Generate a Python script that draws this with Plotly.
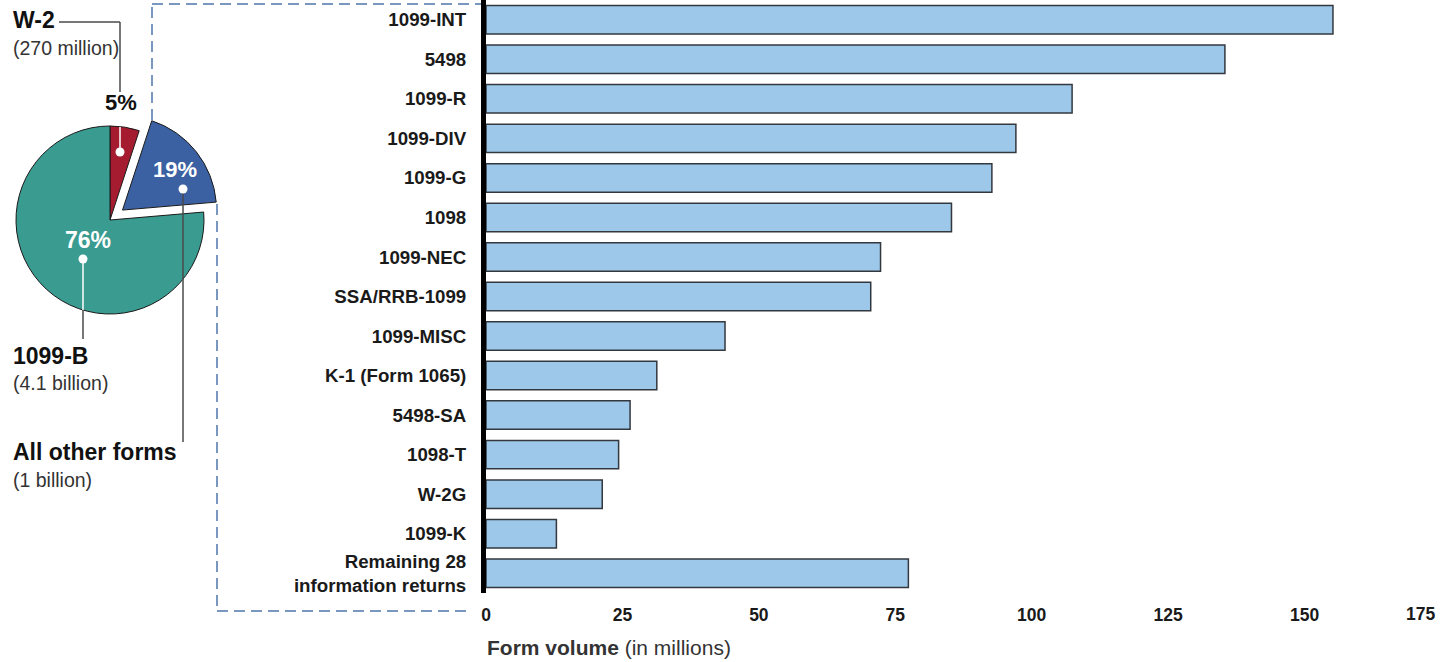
import plotly.graph_objects as go

W, H = 1452, 662

# Information return volumes by form (millions)
forms = [
    "1099-INT", "5498", "1099-R", "1099-DIV", "1099-G", "1098", "1099-NEC",
    "SSA/RRB-1099", "1099-MISC", "K-1 (Form 1065)", "5498-SA", "1098-T",
    "W-2G", "1099-K", "Remaining 28<br>information returns",
]
volume_millions = [155.2, 135.4, 107.4, 97.1, 92.7, 85.3, 72.3, 70.5,
                   43.8, 31.3, 26.4, 24.3, 21.3, 12.9, 77.4]

# Share of all information returns (millions)
pie_labels = ["W-2", "All other forms", "1099-B"]
pie_values = [270, 1000, 4100]
pie_amounts = ["(270 million)", "(1 billion)", "(4.1 billion)"]

x_ticks = [0, 25, 50, 75, 100, 125, 150, 175]

FONT = "Arial, Liberation Sans, sans-serif"
RED, BLUE, TEAL = "#A51C30", "#3B61A2", "#3A9B90"
BAR_FILL, BAR_EDGE = "#9DC8EA", "#33383F"
DASH_COLOR = "#4F76AC"
LEADER = "#4A4A4A"


def px(x):
    return x / W


def py(y):
    return 1 - y / H


fig = go.Figure()

# Pie of all forms, "All other forms" pulled out
pie_cx, pie_cy, pie_half = 110, 220, 110
fig.add_trace(go.Pie(
    labels=pie_labels,
    values=pie_values,
    sort=False,
    direction="clockwise",
    rotation=0,
    pull=[0, 0.17, 0],
    marker=dict(colors=[RED, BLUE, TEAL], line=dict(color="#1a1a1a", width=1)),
    textinfo="none",
    hoverinfo="label+value+percent",
    showlegend=False,
    domain=dict(x=[px(pie_cx - pie_half), px(pie_cx + pie_half)],
                y=[py(pie_cy + pie_half), py(pie_cy - pie_half)]),
))

# Breakdown of the "All other forms" slice
fig.add_trace(go.Bar(
    x=volume_millions,
    y=forms,
    orientation="h",
    width=0.72,
    marker=dict(color=BAR_FILL, line=dict(color=BAR_EDGE, width=1.5)),
    showlegend=False,
    hovertemplate="%{y}: %{x} million<extra></extra>",
))

plot_bottom = 593
tick_font = dict(family=FONT, size=17.5, color="#1a1a1a", weight="bold")

fig.update_layout(
    width=W, height=H,
    margin=dict(l=0, r=0, t=0, b=0),
    paper_bgcolor="white", plot_bgcolor="white",
    font=dict(family=FONT, color="#1a1a1a"),
    bargap=0.28,
    xaxis=dict(
        domain=[px(486), px(1441)],
        range=[0, 175],
        tickvals=x_ticks[:-1],
        ticks="", showgrid=False, zeroline=False, showline=False,
        tickfont=tick_font, ticklabelstandoff=9,
        automargin=False, fixedrange=True,
    ),
    yaxis=dict(
        domain=[py(plot_bottom), 1],
        type="category",
        range=[len(forms) - 0.5, -0.5],
        showline=True, linewidth=5, linecolor="black",
        ticks="", showgrid=False, zeroline=False,
        tickfont=dict(family=FONT, size=18.7, color="#1a1a1a", weight="bold"),
        ticklabelstandoff=11,
        automargin=False, fixedrange=True,
    ),
)

total = sum(pie_values)
pct = [f"{v / total:.0%}" for v in pie_values]

annotations = [
    # last x tick, kept inside the canvas
    dict(x=x_ticks[-1], xref="x", y=py(614), yref="paper", xshift=-21,
         text="175", showarrow=False, font=tick_font,
         xanchor="center", yanchor="middle"),
    # axis title
    dict(x=px(485), y=py(647), xref="paper", yref="paper",
         text="<b>Form volume</b> (in millions)", showarrow=False,
         font=dict(family=FONT, size=21, color="#333333"),
         xanchor="left", yanchor="middle"),
    # pie labels
    dict(x=px(11), y=py(20), text=f"<b>{pie_labels[0]}</b>",
         font=dict(size=23, color="#111111")),
    dict(x=px(11), y=py(48), text=pie_amounts[0],
         font=dict(size=19.5, color="#333333")),
    dict(x=px(11), y=py(356), text=f"<b>{pie_labels[2]}</b>",
         font=dict(size=23, color="#111111")),
    dict(x=px(11), y=py(383), text=pie_amounts[2],
         font=dict(size=19.5, color="#333333")),
    dict(x=px(11), y=py(452), text=f"<b>{pie_labels[1]}</b>",
         font=dict(size=23, color="#111111")),
    dict(x=px(11), y=py(480), text=pie_amounts[1],
         font=dict(size=19.5, color="#333333")),
    # percentages
    dict(x=px(121), y=py(103), text=f"<b>{pct[0]}</b>", xanchor="center",
         font=dict(size=22, color="#111111")),
    dict(x=px(175), y=py(170), text=f"<b>{pct[1]}</b>", xanchor="center",
         font=dict(size=22, color="white")),
    dict(x=px(88), y=py(240), text=f"<b>{pct[2]}</b>", xanchor="center",
         font=dict(size=23, color="white")),
]
for a in annotations[2:]:
    a.setdefault("xref", "paper")
    a.setdefault("yref", "paper")
    a.setdefault("showarrow", False)
    a.setdefault("xanchor", "left")
    a.setdefault("yanchor", "middle")
    a["font"].setdefault("family", FONT)
fig.update_layout(annotations=annotations)


def seg(x0, y0, x1, y1, color, width=1.5, dash=None):
    line = dict(color=color, width=width)
    if dash:
        line["dash"] = dash
    return dict(type="line", xref="paper", yref="paper",
                x0=px(x0), y0=py(y0), x1=px(x1), y1=py(y1), line=line)


def dot(cx, cy, r=4.5):
    return dict(type="circle", xref="paper", yref="paper",
                x0=px(cx - r), x1=px(cx + r), y0=py(cy + r), y1=py(cy - r),
                fillcolor="white", line=dict(color="white", width=0))


shapes = [
    # dashed bracket linking the pulled slice to the bar chart
    seg(152, 120, 152, 4, DASH_COLOR, dash="11px,6px"),
    seg(152, 4, 481, 4, DASH_COLOR, dash="11px,6px"),
    seg(217, 204, 217, 611, DASH_COLOR, dash="11px,6px"),
    seg(217, 611, 470, 611, DASH_COLOR, dash="11px,6px"),
    # W-2 leader
    seg(120, 152, 120, 127, "white"),
    seg(120, 92, 120, 22, LEADER),
    seg(120, 22, 59, 22, LEADER),
    dot(120, 152),
    # All other forms leader
    seg(183, 189, 183, 442, LEADER),
    dot(183, 189),
    # 1099-B leader
    seg(83, 259, 83, 310, "white"),
    seg(83, 310, 83, 339, LEADER),
    dot(83, 259),
]
fig.update_layout(shapes=shapes)

fig.write_html("out.html")
